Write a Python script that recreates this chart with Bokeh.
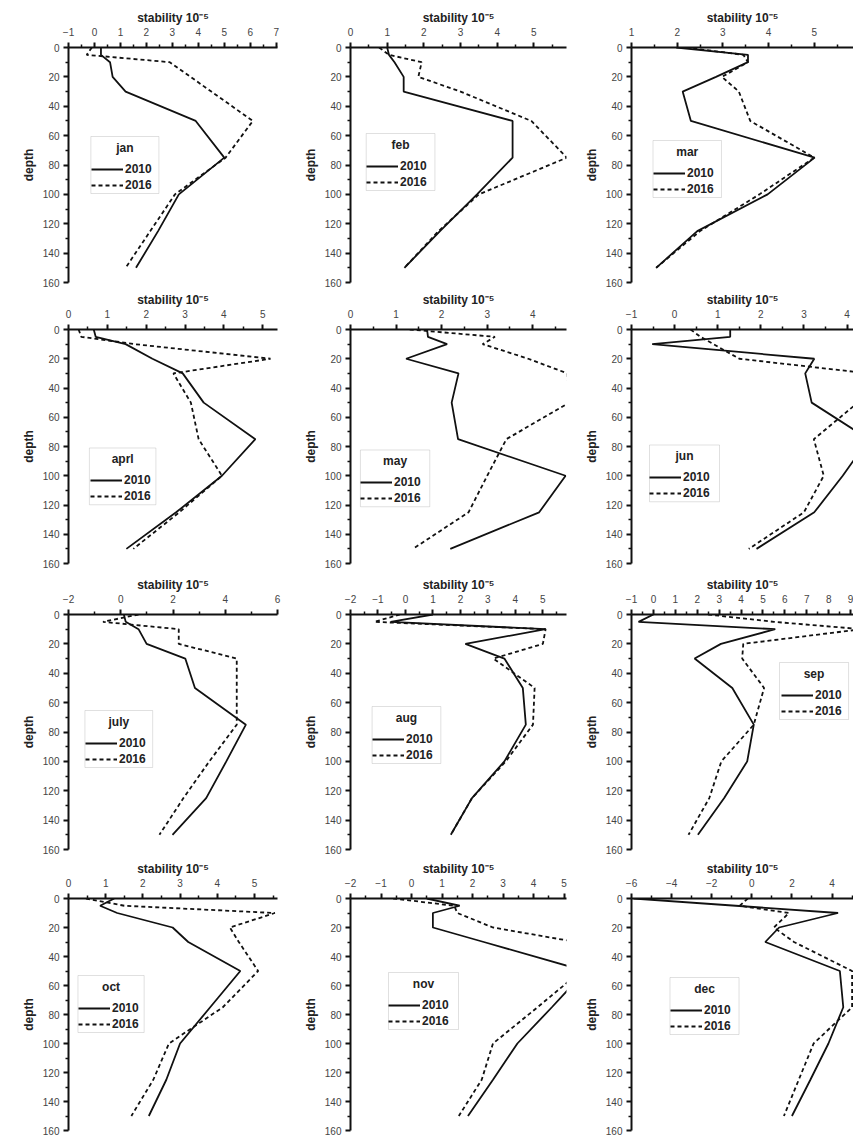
from bokeh.plotting import figure
from bokeh.layouts import gridplot
from bokeh.models import (Range1d, FixedTicker, Legend, LegendItem, Label,
                          BoxAnnotation)
from bokeh.embed import file_html
from bokeh.resources import INLINE

# ---------------- data ----------------
depth = [0, 5, 10, 20, 30, 50, 75, 100, 125, 150]

months = ["jan", "feb", "mar", "aprl", "may", "jun",
          "july", "aug", "sep", "oct", "nov", "dec"]
series_names = ["2010", "2016"]

jan_2010 = [0.25, 0.25, 0.6, 0.7, 1.2, 3.9, 5.0, 3.25, 2.45, 1.6]
jan_2016 = [-0.1, -0.3, 2.9, 3.7, 4.5, 6.1, 5.05, 3.1, 2.15, 1.2]
feb_2010 = [1.0, 1.05, 1.2, 1.45, 1.45, 4.42, 4.42, 3.45, 2.44, 1.47]
feb_2016 = [0.78, 1.05, 1.94, 1.85, 3.0, 4.93, 5.9, 3.5, 2.4, 1.47]
mar_2010 = [1.98, 3.55, 3.55, 2.85, 2.12, 2.3, 5.01, 3.98, 2.44, 1.54]
mar_2016 = [2.2, 3.45, 3.55, 2.98, 3.35, 3.6, 5.0, 3.8, 2.5, 1.54]
apr_2010 = [0.65, 0.7, 1.47, 2.16, 2.94, 3.48, 4.81, 3.95, 2.77, 1.49]
apr_2016 = [0.26, 0.33, 1.7, 5.2, 2.7, 3.15, 3.35, 3.95, 2.85, 1.67]
may_2010 = [1.68, 1.7, 2.12, 1.22, 2.37, 2.22, 2.36, 4.72, 4.14, 2.19]
may_2016 = [1.3, 3.17, 2.9, 3.9, 4.76, 4.8, 3.42, 3.0, 2.59, 1.37]
jun_2010 = [1.29, 1.29, -0.52, 3.24, 3.03, 3.18, 4.5, 3.9, 3.24, 1.9]
jun_2016 = [0.37, 0.6, 0.9, 1.5, 4.5, 4.25, 3.23, 3.46, 3.0, 1.72]
jul_2010 = [0.12, 0.19, 0.68, 0.99, 2.47, 2.84, 4.79, 4.04, 3.27, 1.98]
jul_2016 = [0.68, -0.68, 2.22, 2.22, 4.44, 4.44, 4.44, 3.39, 2.4, 1.48]
aug_2010 = [1.0, -0.54, 5.1, 2.18, 3.6, 4.27, 4.38, 3.6, 2.42, 1.65]
aug_2016 = [-0.2, -1.13, 5.1, 5.0, 3.2, 4.7, 4.64, 3.65, 2.42, 1.65]
sep_2010 = [0.0, -0.68, 5.56, 3.08, 1.88, 3.6, 4.58, 4.28, 3.23, 2.03]
sep_2016 = [2.5, 5.5, 9.5, 4.1, 4.05, 5.05, 4.58, 3.1, 2.55, 1.6]
oct_2010 = [1.23, 0.85, 1.31, 2.8, 3.22, 4.62, 3.81, 3.0, 2.63, 2.16]
oct_2016 = [0.47, 1.5, 5.55, 4.34, 4.58, 5.1, 4.15, 2.7, 2.28, 1.69]
nov_2010 = [0.5, 1.58, 0.7, 0.7, 2.37, 5.7, 4.6, 3.47, 2.67, 1.85]
nov_2016 = [-0.6, 1.4, 1.5, 2.67, 5.4, 5.56, 4.13, 2.67, 2.3, 1.55]
dec_2010 = [-5.9, -0.8, 4.3, 1.36, 0.67, 4.39, 4.56, 3.82, 2.92, 2.0]
dec_2016 = [-0.2, -0.6, 1.85, 1.1, 2.1, 5.0, 5.0, 3.08, 2.34, 1.6]

jan_ticks = [-1, 0, 1, 2, 3, 4, 5, 6, 7]
feb_ticks = [0, 1, 2, 3, 4, 5]
mar_ticks = [1, 2, 3, 4, 5]
apr_ticks = [0, 1, 2, 3, 4, 5]
may_ticks = [0, 1, 2, 3, 4]
jun_ticks = [-1, 0, 1, 2, 3, 4]
jul_ticks = [-2, 0, 2, 4, 6]
aug_ticks = [-2, -1, 0, 1, 2, 3, 4, 5]
sep_ticks = [-1, 0, 1, 2, 3, 4, 5, 6, 7, 8, 9]
oct_ticks = [0, 1, 2, 3, 4, 5]
nov_ticks = [-2, -1, 0, 1, 2, 3, 4, 5]
dec_ticks = [-6, -4, -2, 0, 2, 4]
depth_ticks = [0, 20, 40, 60, 80, 100, 120, 140, 160]

x_label = "stability 10\u207b\u2075"
y_label = "depth"

# ---------------- assembly / layout ----------------
s2010 = [jan_2010, feb_2010, mar_2010, apr_2010, may_2010, jun_2010,
         jul_2010, aug_2010, sep_2010, oct_2010, nov_2010, dec_2010]
s2016 = [jan_2016, feb_2016, mar_2016, apr_2016, may_2016, jun_2016,
         jul_2016, aug_2016, sep_2016, oct_2016, nov_2016, dec_2016]
ticks = [jan_ticks, feb_ticks, mar_ticks, apr_ticks, may_ticks, jun_ticks,
         jul_ticks, aug_ticks, sep_ticks, oct_ticks, nov_ticks, dec_ticks]
x_ranges = [(-1, 7.05), (0, 5.89), (1, 5.86), (0, 5.38), (0, 4.74), (-1, 4.15),
            (-2, 6.0), (-2, 5.86), (-1, 9.13), (0, 5.62), (-2, 5.08), (-6, 5.07)]

col_w = [290, 282, 281]
row_h = [289, 284, 282, 282]
row_top = [47, 39, 41, 43]
frame_h = [235, 235, 235, 232]
left_b = [63, 56, 54, 68, 58, 59, 61, 56, 56, 67, 60, 56]
frame_w = [215, 220, 227, 220, 218, 222, 216, 220, 225, 221, 216, 225]
leg_pos = [(23, 89), (16, 86), (22, 93), (22, 119), (10, 121), (18, 116),
           (17, 96), (22, 92), (150, 48), (10, 77), (38, 74), (39, 79)]
LEG_W, LEG_H = 70, 57

FONT = "Liberation Sans"
INK = "#111111"

figs = []
for i in range(12):
    r, c = divmod(i, 3)
    x0, x1 = x_ranges[i]
    fw, fh = frame_w[i], frame_h[r]
    p = figure(width=col_w[c], height=row_h[r],
               x_range=Range1d(x0, x1), y_range=Range1d(160, 0),
               x_axis_location="above", y_axis_location="left",
               output_backend="svg", toolbar_location=None, tools="",
               min_border_left=left_b[i],
               min_border_right=max(col_w[c] - left_b[i] - fw, 0),
               min_border_top=row_top[r],
               min_border_bottom=row_h[r] - row_top[r] - fh,
               outline_line_color=None,
               background_fill_color="white", border_fill_color="white")
    p.grid.visible = False

    mt = ticks[i]
    step = mt[1] - mt[0]
    minor = [t + step / 2 for t in [mt[0] - step] + mt]
    minor = [m for m in minor if x0 <= m <= x1]

    xa = p.xaxis[0]
    xa.ticker = FixedTicker(ticks=mt, minor_ticks=minor)
    ya = p.yaxis[0]
    ya.ticker = FixedTicker(ticks=depth_ticks,
                            minor_ticks=[d + 10 for d in depth_ticks[:-1]])
    for ax in (xa, ya):
        ax.axis_line_width = 2
        ax.axis_line_color = INK
        ax.major_tick_line_width = 2
        ax.major_tick_line_color = INK
        ax.major_tick_out = 5
        ax.major_tick_in = 0
        ax.minor_tick_line_width = 1.5
        ax.minor_tick_line_color = INK
        ax.minor_tick_out = 3
        ax.minor_tick_in = 0
        ax.major_label_text_font = FONT
        ax.major_label_text_font_size = "10px"
        ax.major_label_text_color = "#444444"
        ax.axis_label_text_font = FONT
        ax.axis_label_text_font_size = "12px"
        ax.axis_label_text_font_style = "bold"
        ax.axis_label_text_color = "#222222"
    xa.axis_label = x_label
    xa.major_label_standoff = 7
    xa.axis_label_standoff = 0
    ya.axis_label = y_label
    ya.major_label_standoff = 4
    ya.axis_label_standoff = 4

    r1 = p.line(s2010[i], depth, line_color=INK, line_width=1.8)
    r2 = p.line(s2016[i], depth, line_color=INK, line_width=1.8,
                line_dash="4 3")

    # legend frame (white box with grey border), then a transparent legend
    L, T = leg_pos[i]
    sx = (x1 - x0) / fw
    sy = 160.0 / fh
    p.add_layout(BoxAnnotation(left=x0 + L * sx, right=x0 + (L + LEG_W) * sx,
                               top=T * sy, bottom=(T + LEG_H) * sy,
                               fill_color="white", fill_alpha=1.0,
                               line_color="#999999", line_width=1,
                               level="annotation"))
    leg = Legend(items=[LegendItem(label=series_names[0], renderers=[r1]),
                        LegendItem(label=series_names[1], renderers=[r2])],
                 location=(L, fh - T - LEG_H),
                 title="\u00a0", title_standoff=3,
                 title_text_font=FONT, title_text_font_size="12px",
                 title_text_font_style="bold",
                 label_text_font=FONT, label_text_font_size="12px",
                 label_text_font_style="bold", label_text_color="#222222",
                 glyph_width=32, glyph_height=16, label_height=16,
                 label_width=28, label_standoff=2, spacing=0, padding=4,
                 margin=0, border_line_color=None,
                 background_fill_alpha=0.0)
    p.add_layout(leg)

    p.add_layout(Label(x=x0 + (L + LEG_W / 2) * sx, y=(T + 11) * sy,
                       text=months[i], text_align="center",
                       text_baseline="middle", text_font=FONT,
                       text_font_size="12px", text_font_style="bold",
                       text_color="#222222"))
    figs.append(p)

grid = gridplot([figs[0:3], figs[3:6], figs[6:9], figs[9:12]],
                toolbar_location=None, merge_tools=False)

open("out.html", "w").write(file_html(grid, INLINE))
